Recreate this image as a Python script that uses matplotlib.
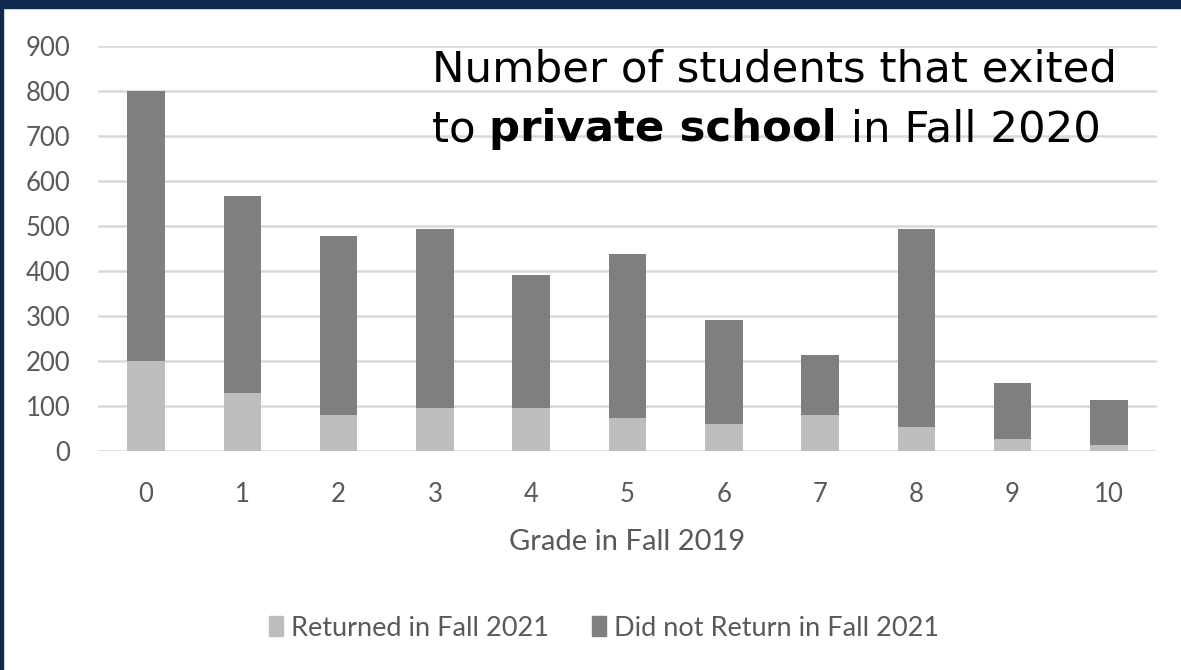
import matplotlib
matplotlib.use("Agg")
import matplotlib.pyplot as plt
from matplotlib.patches import Rectangle, Patch

grades = ["0", "1", "2", "3", "4", "5", "6", "7", "8", "9", "10"]
returned = [200, 130, 80, 96, 96, 73, 59, 80, 54, 26, 13]
total = [800, 567, 478, 493, 391, 438, 291, 213, 493, 152, 113]
not_returned = [t - r for t, r in zip(total, returned)]

LIGHT = "#bdbdbd"
DARK = "#7f7f7f"
GRID = "#d9d9d9"
TXT = "#595959"
NAVY = "#12294f"

W, H = 1181, 670
fig = plt.figure(figsize=(W / 100, H / 100), dpi=100)
fig.patch.set_facecolor("white")

ax = fig.add_axes([98 / W, 1 - 451 / H, (1157 - 98) / W, (451 - 46) / H])
x = range(len(grades))
ax.bar(x, returned, width=0.39, color=LIGHT, zorder=2, label="Returned in Fall 2021")
ax.bar(x, not_returned, width=0.39, bottom=returned, color=DARK, zorder=2,
       label="Did not Return in Fall 2021")

ax.set_xlim(-0.5, len(grades) - 0.5)
ax.set_ylim(0, 900)
ax.set_yticks(range(0, 901, 100))
ax.set_xticks(list(x))
ax.set_xticklabels(grades)
ax.grid(axis="y", color=GRID, linewidth=1.8, zorder=0)
for s in ax.spines.values():
    s.set_visible(False)
ax.tick_params(length=0, labelsize=18.5, labelcolor=TXT)
ax.tick_params(axis="y", pad=20)
ax.tick_params(axis="x", pad=22)
for lab in ax.get_xticklabels() + ax.get_yticklabels():
    lab.set_family("Lato")
ax.set_xlabel("Grade in Fall 2019", fontsize=21, color=TXT, family="Lato", labelpad=16)

# title drawn inside the plot, with the bold part in the middle of line two
fs = 31.3
tx, ty1, ty2 = 432 / W, 1 - 81 / H, 1 - 141 / H
fig.text(tx, ty1, "Number of students that exited", fontsize=fs,
         family="DejaVu Sans", color="black", va="baseline")
fig.canvas.draw()
renderer = fig.canvas.get_renderer()
xpos = tx
for part, weight in [("to ", "normal"), ("private school", "bold"), (" in Fall 2020", "normal")]:
    t = fig.text(xpos, ty2, part, fontsize=fs, family="DejaVu Sans",
                 fontweight=weight, color="black", va="baseline")
    bb = t.get_window_extent(renderer)
    xpos += bb.width / W

handles = [Patch(color=LIGHT), Patch(color=DARK)]
leg = fig.legend(handles, ["Returned in Fall 2021", "Did not Return in Fall 2021"],
                 loc="center", bbox_to_anchor=(604 / W, 1 - 628 / H), ncol=2,
                 frameon=False, fontsize=19.5, handlelength=0.5, handleheight=0.8,
                 handletextpad=0.3, columnspacing=1.6)
for t in leg.get_texts():
    t.set_color(TXT)
    t.set_family("Lato")

# dark frame along the top and left edges
fig.patches.append(Rectangle((0, 1 - 8 / H), 1, 8 / H, transform=fig.transFigure,
                             color=NAVY, zorder=10))
fig.patches.append(Rectangle((0, 0), 3 / W, 1, transform=fig.transFigure,
                             color=NAVY, zorder=10))

fig.savefig("out.png", dpi=100)
